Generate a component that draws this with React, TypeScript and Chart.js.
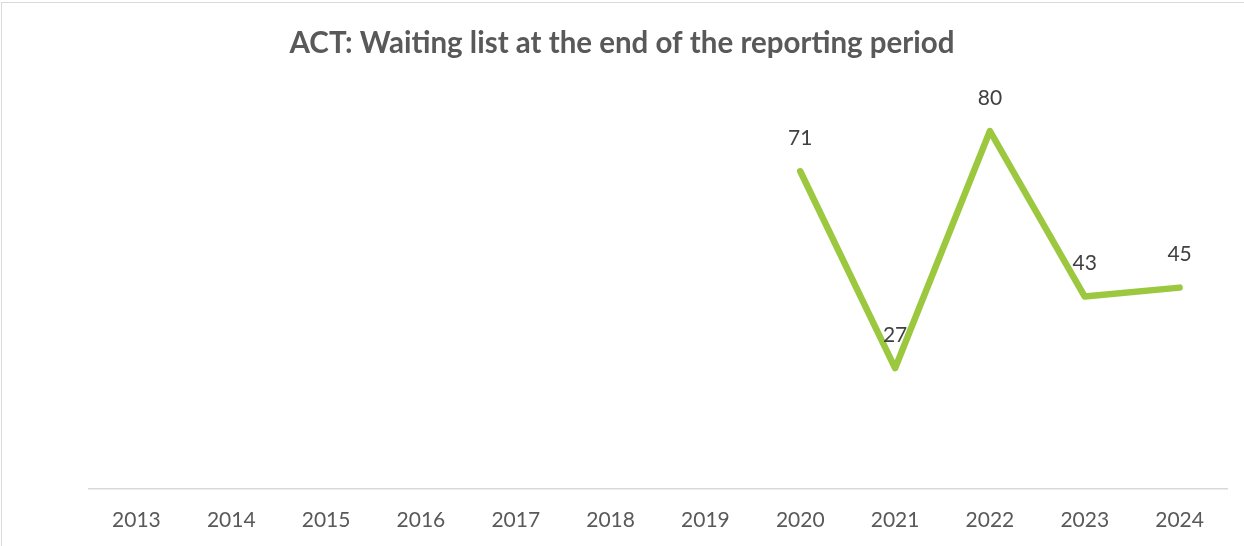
import React, { useEffect, useRef } from "react";
import { Chart, registerables } from "chart.js";

Chart.register(...registerables);

const categories = ["2013", "2014", "2015", "2016", "2017", "2018", "2019", "2020", "2021", "2022", "2023", "2024"];
const waitingList: (number | null)[] = [null, null, null, null, null, null, null, 71, 27, 80, 43, 45];
const titleText = "ACT: Waiting list at the end of the reporting period";

const FONT = "Lato, 'Open Sans', sans-serif";

const titlePlugin = {
  id: "overlayTitle",
  afterDraw(chart: any) {
    const ctx = chart.ctx;
    ctx.save();
    ctx.font = `bold 29.5px ${FONT}`;
    ctx.fillStyle = "#595959";
    ctx.textAlign = "center";
    ctx.textBaseline = "middle";
    ctx.fillText(titleText, 622, 43);
    ctx.restore();
  },
};

const labelPlugin = {
  id: "valueLabels",
  afterDatasetsDraw(chart: any) {
    const ctx = chart.ctx;
    const meta = chart.getDatasetMeta(0);
    const data = chart.data.datasets[0].data;
    ctx.save();
    ctx.font = `21px ${FONT}`;
    ctx.fillStyle = "#404040";
    ctx.textAlign = "center";
    ctx.textBaseline = "middle";
    meta.data.forEach((pt: any, i: number) => {
      const v = data[i];
      if (v === null || v === undefined) return;
      ctx.fillText(String(v), pt.x, pt.y - 33);
    });
    ctx.restore();
  },
};

export default function App() {
  const ref = useRef<HTMLCanvasElement>(null);
  useEffect(() => {
    document.body.style.margin = "0";
    const chart = new Chart(ref.current!, {
      type: "line",
      data: {
        labels: categories,
        datasets: [
          {
            data: waitingList,
            borderColor: "#9BC83F",
            borderWidth: 6.5,
            borderCapStyle: "round",
            borderJoinStyle: "round",
            pointRadius: 0,
            tension: 0,
            fill: false,
          },
        ],
      },
      options: {
        responsive: false,
        animation: false,
        layout: { padding: { left: 89, right: 17, top: 41.5, bottom: 0 } },
        plugins: { legend: { display: false }, title: { display: false }, tooltip: { enabled: false } },
        scales: {
          x: {
            offset: true,
            grid: { display: false, drawTicks: false },
            border: { display: true, color: "#d9d9d9", width: 1.5 },
            ticks: { color: "#595959", font: { family: FONT, size: 21 }, padding: 19, maxRotation: 0, autoSkip: false },
            afterFit: (scale: any) => {
              scale.height = 57;
            },
          },
          y: { display: false, min: 0, max: 100 },
        },
      },
      plugins: [titlePlugin, labelPlugin],
    });
    return () => chart.destroy();
  }, []);
  return (
    <div style={{ position: "relative", width: 1244, height: 546, background: "#fff" }}>
      <div
        style={{
          position: "absolute",
          left: 1,
          top: 2,
          width: 1260,
          height: 560,
          border: "1.5px solid #d9d9d9",
          boxSizing: "border-box",
        }}
      />
      <canvas ref={ref} width={1244} height={546} style={{ position: "absolute", left: 0, top: 0 }} />
    </div>
  );
}
